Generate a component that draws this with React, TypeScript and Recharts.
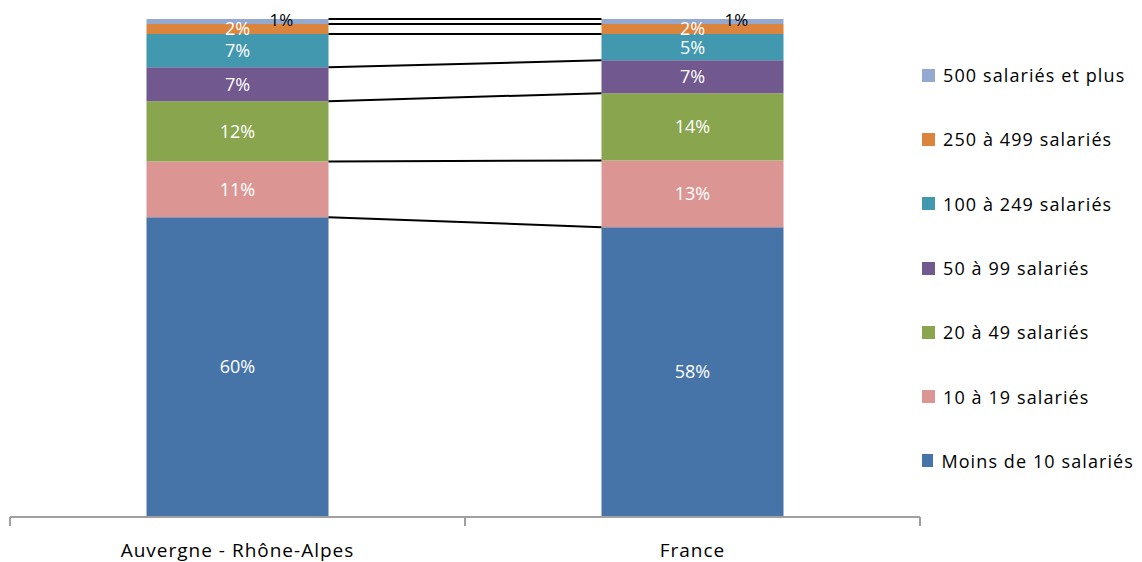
import React from "react";
import {
  ComposedChart,
  Bar,
  Line,
  XAxis,
  YAxis,
  Legend,
  LabelList,
} from "recharts";

const categories = ["Auvergne - Rhône-Alpes", "France"];

const seriesNames = [
  "Moins de 10 salariés",
  "10 à 19 salariés",
  "20 à 49 salariés",
  "50 à 99 salariés",
  "100 à 249 salariés",
  "250 à 499 salariés",
  "500 salariés et plus",
];

// share (%) per size class, in the order of seriesNames
const auvergne = [60.2, 11.2, 12.1, 6.8, 6.7, 2.0, 1.0];
const france = [58.2, 13.4, 13.5, 6.6, 5.3, 2.0, 1.0];

const colors = [
  "#4674A8",
  "#DB9694",
  "#89A54E",
  "#71588F",
  "#4198AF",
  "#DB843D",
  "#93A9CF",
];

const FONT = "'Open Sans', sans-serif";
const GAP = 0.3; // barCategoryGap as a share of each band

const rows = [auvergne, france].map((vals, i) => {
  const row: Record<string, number | string> = {
    name: categories[i],
    // position of the bar edge facing the other bar, on a 0..2 numeric axis
    lx: i === 0 ? 1 - GAP : 1 + GAP,
  };
  let cum = 0;
  vals.forEach((v, k) => {
    row["s" + k] = v;
    cum += v;
    row["c" + k] = cum;
  });
  return row;
});

const fmt = (v: any) => Math.round(Number(v)) + "%";

const SmallLabel = (props: any) => {
  const { x, y, width, value } = props;
  return (
    <text
      x={x + width / 2 + 44}
      y={y}
      textAnchor="middle"
      dominantBaseline="central"
      fill="#000"
      fontSize={17}
      fontFamily={FONT}
    >
      {fmt(value)}
    </text>
  );
};

const AxisTick = (props: any) => {
  const { x, y, payload } = props;
  const v = payload.value;
  if (Number.isInteger(v)) {
    return <line x1={x} x2={x} y1={y - 8} y2={y + 1} stroke="#A0A0A0" strokeWidth={2} />;
  }
  return (
    <text
      x={x}
      y={y + 32}
      textAnchor="middle"
      fill="#000"
      fontSize={19}
      letterSpacing={1}
      fontFamily={FONT}
    >
      {categories[Math.floor(v)]}
    </text>
  );
};

const LegendContent = () => (
  <div style={{ fontFamily: FONT, fontSize: 18, letterSpacing: 1.1, color: "#000" }}>
    {seriesNames
      .map((n, i) => ({ n, c: colors[i] }))
      .reverse()
      .map((it) => (
        <div
          key={it.n}
          style={{ display: "flex", alignItems: "center", height: 64.3, whiteSpace: "nowrap" }}
        >
          <span
            style={{
              display: "inline-block",
              width: 13,
              height: 13,
              background: it.c,
              marginRight: 8,
            }}
          />
          {it.n}
        </div>
      ))}
  </div>
);

export default function App() {
  return (
    <ComposedChart
      width={1126}
      height={554}
      data={rows}
      margin={{ top: 11, right: 2, bottom: 5, left: 2 }}
      barCategoryGap={GAP * 100 + "%"}
      style={{ fontFamily: FONT }}
    >
      <XAxis dataKey="name" xAxisId="cat" hide height={0} />
      <XAxis
        dataKey="lx"
        xAxisId="num"
        type="number"
        domain={[0, 2]}
        ticks={[0, 0.5, 1, 1.5, 2]}
        interval={0}
        height={40}
        axisLine={{ stroke: "#A0A0A0", strokeWidth: 2 }}
        tickLine={false}
        tick={<AxisTick />}
      />
      <YAxis domain={[0, 100]} hide />
      <Legend
        layout="vertical"
        align="right"
        verticalAlign="top"
        content={<LegendContent />}
        wrapperStyle={{ width: 212, top: 35, right: 0 }}
      />
      {seriesNames.map((n, k) => (
        <Bar
          key={n}
          name={n}
          dataKey={"s" + k}
          xAxisId="cat"
          stackId="a"
          fill={colors[k]}
          isAnimationActive={false}
        >
          {k === seriesNames.length - 1 ? (
            <LabelList dataKey={"s" + k} content={<SmallLabel />} />
          ) : (
            <LabelList
              dataKey={"s" + k}
              position="center"
              formatter={fmt}
              fill="#fff"
              fontSize={18}
              fontFamily={FONT}
            />
          )}
        </Bar>
      ))}
      {seriesNames.map((n, k) => (
        <Line
          key={"l" + k}
          dataKey={"c" + k}
          xAxisId="num"
          stroke="#000"
          strokeWidth={2}
          dot={false}
          legendType="none"
          isAnimationActive={false}
        />
      ))}
    </ComposedChart>
  );
}
